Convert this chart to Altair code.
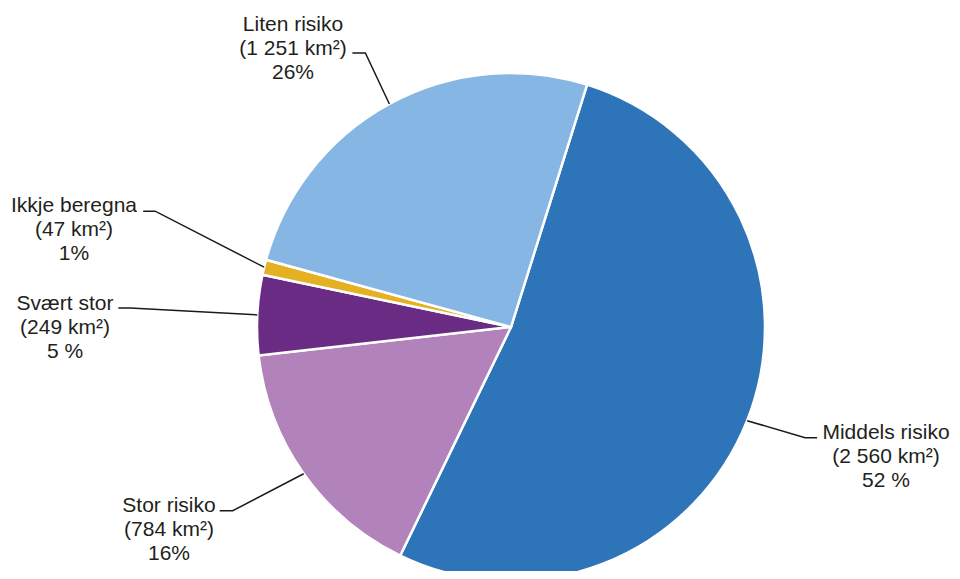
import math
import altair as alt
import pandas as pd

# ---- data ----
categories = ["Middels risiko", "Stor risiko", "Svært stor", "Ikkje beregna", "Liten risiko"]
area_km2 = [2560, 784, 249, 47, 1251]
area_text = ["2 560", "784", "249", "47", "1 251"]
pct_text = ["52 %", "16%", "5 %", "1%", "26%"]
colors = ["#2E74B8", "#B283BA", "#692B84", "#E6B023", "#86B7E4"]

# ---- layout (styling) ----
W, H = 944, 563
CX, CY, R = 503, 319, 254
START = math.radians(17.43)
elbow_off = [(58, 17), (-71, 37), (-127, -7), (-109, -56), (-24, -51)]
tail_len = [12, -13, -12, -12, -13]
label_anchor = [(878, 431), (161, 504), (57, 302), (66, 204), (285, 23)]

pie_df = pd.DataFrame({
    "kategori": categories,
    "areal": area_km2,
    "ord": list(range(len(categories))),
})

total = float(sum(area_km2))
rows_line = []
rows_text = []
cum = 0.0
for i, c in enumerate(categories):
    frac = area_km2[i] / total
    mid = START + 2 * math.pi * (cum + frac / 2)
    cum += frac
    sx = CX + R * math.sin(mid)
    sy = CY - R * math.cos(mid)
    ex, ey = sx + elbow_off[i][0], sy + elbow_off[i][1]
    tx, ty = ex + tail_len[i], ey
    for k, (px, py) in enumerate([(sx, sy), (ex, ey), (tx, ty)]):
        rows_line.append({"kategori": c, "k": k, "x": px, "y": py})
    rows_text.append({
        "kategori": c,
        "x": label_anchor[i][0],
        "y": label_anchor[i][1],
        "label": f"{c}\n({area_text[i]} km²)\n{pct_text[i]}",
    })

line_df = pd.DataFrame(rows_line)
text_df = pd.DataFrame(rows_text)

xs = alt.Scale(domain=[0, W], nice=False, zero=False)
ys = alt.Scale(domain=[H, 0], nice=False, zero=False)

pie = alt.Chart(pie_df).mark_arc(
    radius=R, stroke="white", strokeWidth=2.5
).encode(
    theta=alt.Theta("areal:Q", stack=True,
                    scale=alt.Scale(range=[START, START + 2 * math.pi])),
    color=alt.Color("kategori:N", scale=alt.Scale(domain=categories, range=colors), legend=None),
    order=alt.Order("ord:Q"),
    x=alt.value(CX),
    y=alt.value(CY),
)

leaders = alt.Chart(line_df).mark_line(color="#1a1a1a", strokeWidth=1.5).encode(
    x=alt.X("x:Q", scale=xs, axis=None),
    y=alt.Y("y:Q", scale=ys, axis=None),
    detail="kategori:N",
    order="k:Q",
)

labels = alt.Chart(text_df).mark_text(
    font="Liberation Sans", fontSize=21, color="#231F20",
    align="center", baseline="alphabetic", lineBreak="\n", lineHeight=24,
).encode(
    x=alt.X("x:Q", scale=xs, axis=None),
    y=alt.Y("y:Q", scale=ys, axis=None),
    text="label:N",
)

chart = alt.layer(pie, leaders, labels).properties(
    width=W, height=H, autosize=alt.AutoSizeParams(type="none"), padding=0
).configure_view(stroke=None).resolve_scale(x="shared", y="shared")

chart.save("out.html", embed_options={"renderer": "svg", "actions": False})
